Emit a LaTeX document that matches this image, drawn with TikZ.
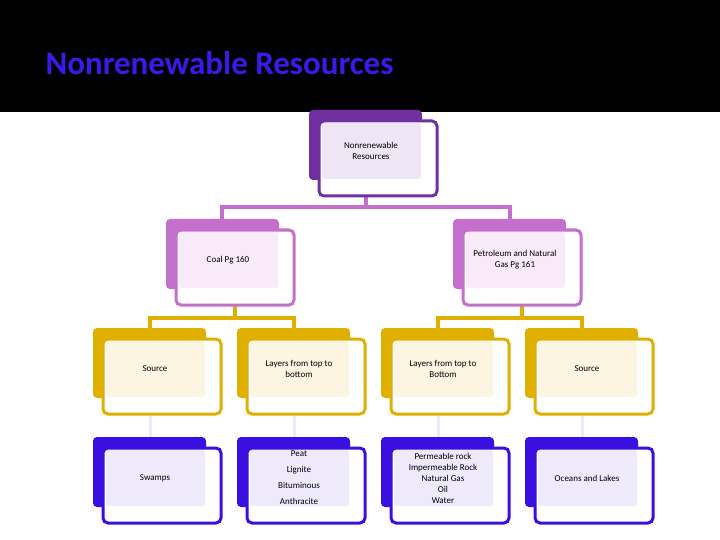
\documentclass[tikz,border=0pt]{standalone}
\usepackage{fontspec}
\setmainfont{Carlito}
\usetikzlibrary{calc}
\begin{document}
\begin{tikzpicture}[x=1pt,y=-1pt,
  lbl/.style={font=\fontsize{9}{11}\selectfont,align=center,text=black},
  conn/.style={line width=4pt}]
\definecolor{dp}{HTML}{7030A0}\definecolor{dpl}{HTML}{EEE6F4}
\definecolor{lp}{HTML}{C46FCB}\definecolor{lpl}{HTML}{F8EAF8}
\definecolor{gd}{HTML}{E0B000}\definecolor{gdl}{HTML}{FBF5E2}
\definecolor{bv}{HTML}{3A10E0}\definecolor{bvl}{HTML}{EEEAFC}
\definecolor{tt}{HTML}{3A1AE8}
\useasboundingbox (0,0) rectangle (720,540);
\fill[black] (0,0) rectangle (720,112);
\node[anchor=west,text=tt,font=\fontsize{33}{36}\selectfont\bfseries] (title) at (42,63) {Nonrenewable Resources};
\newcommand\itembox[6]{% name, x0, y0, color, light, text
  \fill[#4,rounded corners=4pt] (#2,#3) rectangle ++(113,70);
  \draw[#4,line width=3pt,fill=white,rounded corners=5pt] ($(#2,#3)+(10,11)$) rectangle ++(118,75);
  \fill[#5,rounded corners=3pt] ($(#2,#3)+(13,13)$) rectangle ++(99,56);
  \node[lbl] (#1) at ($(#2,#3)+(62,41)$) {#6};}
% connectors
\draw[conn,lp] (366,195) -- (366,207) -- (222,207) -- (222,220);
\draw[conn,lp] (366,207) -- (510,207) -- (510,220);
\draw[conn,gd] (235,305) -- (235,318) -- (150,318) -- (150,330);
\draw[conn,gd] (235,318) -- (294,318) -- (294,330);
\draw[conn,gd] (522,305) -- (522,318) -- (438,318) -- (438,330);
\draw[conn,gd] (522,318) -- (582,318) -- (582,330);
\foreach \x in {150,294,438,582}{\draw[line width=3pt,bvl] (\x,413) -- (\x,438);}
\itembox{top}{309}{110}{dp}{dpl}{Nonrenewable\\Resources}
\itembox{coal}{166}{219}{lp}{lpl}{Coal Pg 160}
\itembox{pet}{453}{219}{lp}{lpl}{Petroleum and Natural\\Gas Pg 161}
\itembox{s1}{93}{328}{gd}{gdl}{Source}
\itembox{l1}{237}{328}{gd}{gdl}{Layers from top to\\bottom}
\itembox{l2}{381}{328}{gd}{gdl}{Layers from top to\\Bottom}
\itembox{s2}{525}{328}{gd}{gdl}{Source}
\itembox{sw}{93}{437}{bv}{bvl}{Swamps}
\itembox{pe}{237}{437}{bv}{bvl}{Peat\\[5pt]Lignite\\[5pt]Bituminous\\[5pt]Anthracite}
\itembox{pr}{381}{437}{bv}{bvl}{Permeable rock\\Impermeable Rock\\Natural Gas\\Oil\\Water}
\itembox{oc}{525}{437}{bv}{bvl}{Oceans and Lakes}
\end{tikzpicture}
\end{document}
